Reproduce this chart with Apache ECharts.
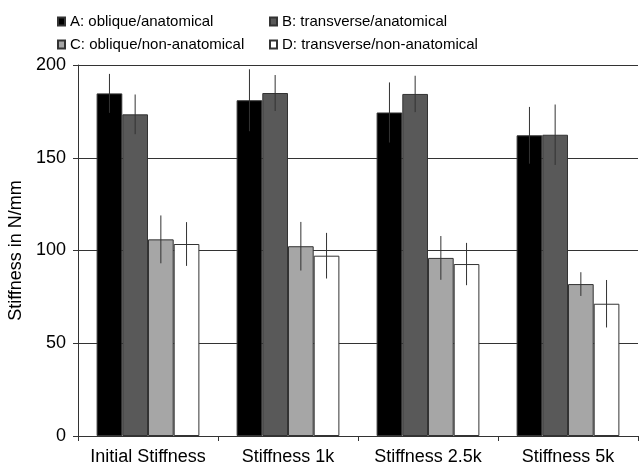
<!DOCTYPE html>
<html>
<head>
<meta charset="utf-8">
<script src="https://cdn.jsdelivr.net/npm/echarts@6/dist/echarts.min.js"></script>
<style>
  html, body { margin: 0; padding: 0; background: #fff; }
  #main { width: 639px; height: 467px; }
</style>
</head>
<body>
<div id="main"></div>
<script>
// categories and series
var categories = ['Initial Stiffness', 'Stiffness 1k', 'Stiffness 2.5k', 'Stiffness 5k'];
var seriesNames = ['A: oblique/anatomical', 'B: transverse/anatomical', 'C: oblique/non-anatomical', 'D: transverse/non-anatomical'];
var valuesA = [184.7, 181.0, 174.4, 162.1];
var valuesB = [173.4, 184.9, 184.4, 162.4];
var valuesC = [106.0, 102.3, 96.0, 81.9];
var valuesD = [103.5, 97.2, 92.7, 71.3];
// standard deviations (error bars)
var errA = [10.5, 16.7, 16.2, 15.3];
var errB = [10.7, 9.7, 9.8, 16.3];
var errC = [12.9, 13.1, 11.8, 6.4];
var errD = [11.8, 12.3, 11.4, 12.8];
var yTicks = [0, 50, 100, 150, 200];

var colors = ['#000000', '#595959', '#a6a6a6', '#ffffff'];
var allValues = [valuesA, valuesB, valuesC, valuesD];
var allErr = [errA, errB, errC, errD];
var gapRatio = 0.266;

var font = 'Liberation Sans, Arial, sans-serif';
var myChart = echarts.init(document.getElementById('main'));

function errorSeries(idx) {
    return {
        type: 'custom',
        name: seriesNames[idx] + ' err',
        z: 10,
        silent: true,
        renderItem: function (params, api) {
            var ci = api.value(0);
            var v = api.value(1);
            var e = api.value(2);
            var catW = api.size([1, 0])[0];
            var barW = catW * (1 - gapRatio) / 4;
            var off = (idx - 1.5) * barW;
            var top = api.coord([ci, v + e]);
            var bot = api.coord([ci, v - e]);
            return {
                type: 'line',
                shape: {x1: top[0] + off, y1: top[1], x2: top[0] + off, y2: bot[1]},
                style: {stroke: '#333', lineWidth: 1}
            };
        },
        data: allValues[idx].map(function (v, i) { return [i, v, allErr[idx][i]]; })
    };
}

function legendAt(idx, left, top) {
    return {
        data: [seriesNames[idx]],
        left: left,
        top: top,
        padding: 0,
        icon: 'rect',
        itemWidth: 7,
        itemHeight: 8,
        itemGap: 4,
        selectedMode: false,
        textStyle: {fontFamily: font, fontSize: 15, color: '#000', padding: [0, 0, 0, 0]}
    };
}

var series = [];
for (var i = 0; i < 4; i++) {
    series.push({
        name: seriesNames[i],
        type: 'bar',
        barGap: '0%',
        barCategoryGap: (gapRatio * 100) + '%',
        itemStyle: {color: colors[i], borderColor: '#333', borderWidth: 1},
        data: allValues[i]
    });
}
for (var j = 0; j < 4; j++) series.push(errorSeries(j));

myChart.setOption({
    animation: false,
    legend: [
        legendAt(0, 57, 14),
        legendAt(1, 269, 14),
        legendAt(2, 57, 37),
        legendAt(3, 269, 37)
    ],
    grid: {left: 78, right: 1, top: 65, bottom: 31, outerBoundsMode: 'none', containLabel: false},
    xAxis: {
        type: 'category',
        data: categories,
        axisLine: {lineStyle: {color: '#333', width: 1}},
        axisTick: {show: true, length: 5, lineStyle: {color: '#333'}},
        axisLabel: {fontFamily: font, fontSize: 18, color: '#000', margin: 12, interval: 0, hideOverlap: false}
    },
    yAxis: {
        type: 'value',
        min: yTicks[0],
        max: yTicks[yTicks.length - 1],
        interval: 50,
        name: 'Stiffness in N/mm',
        nameLocation: 'middle',
        nameGap: 50,
        nameTextStyle: {fontFamily: font, fontSize: 18, color: '#000'},
        axisLine: {show: true, lineStyle: {color: '#333', width: 1}},
        axisTick: {show: true, length: 5, lineStyle: {color: '#333'}},
        axisLabel: {fontFamily: font, fontSize: 18, color: '#000', margin: 12},
        splitLine: {show: true, lineStyle: {color: '#333', width: 1}}
    },
    series: series
});
</script>
</body>
</html>
